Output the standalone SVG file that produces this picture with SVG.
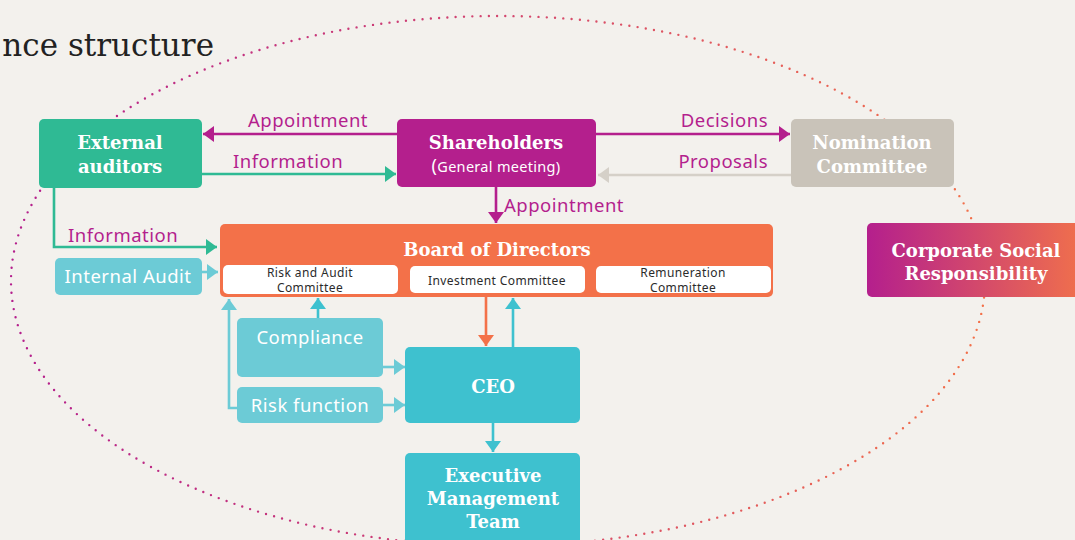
<svg xmlns="http://www.w3.org/2000/svg" width="1075" height="540" viewBox="0 0 1075 540">
<defs>
<linearGradient id="gEll" gradientUnits="userSpaceOnUse" x1="11" y1="0" x2="985" y2="0">
<stop offset="0" stop-color="#b41f8d"/><stop offset="0.5" stop-color="#d3466f"/><stop offset="1" stop-color="#f37149"/>
</linearGradient>
<linearGradient id="gCsr" x1="0" y1="0" x2="1" y2="0">
<stop offset="0" stop-color="#b41f8d"/><stop offset="1" stop-color="#f0704c"/>
</linearGradient>
<marker id="mMag" viewBox="0 0 11 16" refX="11" refY="8" markerWidth="11" markerHeight="16" markerUnits="userSpaceOnUse" orient="auto"><path d="M0,0L11,8L0,16z" fill="#b41f8d"/></marker>
<marker id="mGrn" viewBox="0 0 11 16" refX="11" refY="8" markerWidth="11" markerHeight="16" markerUnits="userSpaceOnUse" orient="auto"><path d="M0,0L11,8L0,16z" fill="#2fba94"/></marker>
<marker id="mGry" viewBox="0 0 11 16" refX="11" refY="8" markerWidth="11" markerHeight="16" markerUnits="userSpaceOnUse" orient="auto"><path d="M0,0L11,8L0,16z" fill="#d5d0c8"/></marker>
<marker id="mLt" viewBox="0 0 11 16" refX="11" refY="8" markerWidth="11" markerHeight="16" markerUnits="userSpaceOnUse" orient="auto"><path d="M0,0L11,8L0,16z" fill="#6ccbd6"/></marker>
<marker id="mTl" viewBox="0 0 11 16" refX="11" refY="8" markerWidth="11" markerHeight="16" markerUnits="userSpaceOnUse" orient="auto"><path d="M0,0L11,8L0,16z" fill="#3ec1cf"/></marker>
<marker id="mOr" viewBox="0 0 11 16" refX="11" refY="8" markerWidth="11" markerHeight="16" markerUnits="userSpaceOnUse" orient="auto"><path d="M0,0L11,8L0,16z" fill="#f37149"/></marker>
</defs>
<style>
.bt{font-family:"DejaVu Serif",serif;font-weight:bold;font-size:18px;fill:#fff;text-anchor:middle}
.st{font-family:"Noto Sans","Open Sans",sans-serif;font-size:18.5px;fill:#fff;text-anchor:middle;letter-spacing:0.5px}
.lb{font-family:"Noto Sans","Open Sans",sans-serif;font-size:18.5px;fill:#b41f8d;letter-spacing:0.5px}
.sm{font-family:"Noto Sans","Open Sans",sans-serif;font-size:12px;fill:#2b2b2b;text-anchor:middle;letter-spacing:0.4px}
.ln{fill:none;stroke-width:2.6}
</style>
<rect width="1075" height="540" fill="#f3f1ed"/>
<text x="214" y="56" font-family="DejaVu Serif, serif" font-size="31" fill="#222" text-anchor="end">nce structure</text>
<ellipse cx="498" cy="281" rx="487" ry="265" fill="none" stroke="url(#gEll)" stroke-width="2.4" stroke-linecap="round" stroke-dasharray="0 8.3"/>

<g id="connectors">
<path class="ln" d="M397,134H203" stroke="#b41f8d" marker-end="url(#mMag)"/>
<path class="ln" d="M202,174H396" stroke="#2fba94" marker-end="url(#mGrn)"/>
<path class="ln" d="M596,134H790" stroke="#b41f8d" marker-end="url(#mMag)"/>
<path class="ln" d="M791,175H598" stroke="#d5d0c8" marker-end="url(#mGry)"/>
<path class="ln" d="M496,187V223" stroke="#b41f8d" marker-end="url(#mMag)"/>
<path class="ln" d="M54,188V247H217" stroke="#2fba94" marker-end="url(#mGrn)"/>
<path class="ln" d="M202,272H218" stroke="#6ccbd6" marker-end="url(#mLt)"/>
<path class="ln" d="M318,318V298" stroke="#3ec1cf" marker-end="url(#mTl)"/>
<path class="ln" d="M237,408H229V299" stroke="#6ccbd6" marker-end="url(#mLt)"/>
<path class="ln" d="M383,367H405" stroke="#6ccbd6" marker-end="url(#mLt)"/>
<path class="ln" d="M383,405H405" stroke="#6ccbd6" marker-end="url(#mLt)"/>
<path class="ln" d="M486,297V346" stroke="#f37149" marker-end="url(#mOr)"/>
<path class="ln" d="M513,347V298" stroke="#3ec1cf" marker-end="url(#mTl)"/>
<path class="ln" d="M493,423V452" stroke="#3ec1cf" marker-end="url(#mTl)"/>
<text class="lb" x="308" y="127" text-anchor="middle">Appointment</text>
<text class="lb" x="288" y="168" text-anchor="middle">Information</text>
<text class="lb" x="768" y="127" text-anchor="end">Decisions</text>
<text class="lb" x="768" y="168" text-anchor="end">Proposals</text>
<text class="lb" x="504" y="212">Appointment</text>
<text class="lb" x="68" y="242">Information</text>
</g>

<g id="external-auditors">
<rect x="39" y="119" width="163" height="69" rx="5" fill="#2fba94"/>
<text class="bt" x="120" y="149">External</text>
<text class="bt" x="120" y="173">auditors</text>
</g>
<g id="shareholders">
<rect x="397" y="119" width="199" height="68" rx="5" fill="#b41f8d"/>
<text class="bt" x="496" y="149">Shareholders</text>
<text x="496" y="172" font-family="Noto Sans, Open Sans, sans-serif" font-size="14.5" fill="#fff" text-anchor="middle" letter-spacing="0.3"><tspan font-size="18">(</tspan>General meeting)</text>
</g>
<g id="nomination-committee">
<rect x="791" y="119" width="163" height="68" rx="5" fill="#c9c3b9"/>
<text class="bt" x="872" y="149">Nomination</text>
<text class="bt" x="872" y="173">Committee</text>
</g>
<g id="csr">
<rect x="867" y="223" width="215" height="74" rx="5" fill="url(#gCsr)"/>
<text class="bt" x="976" y="257">Corporate Social</text>
<text class="bt" x="976" y="280">Responsibility</text>
</g>
<g id="board">
<rect x="220" y="224" width="553" height="73" rx="5" fill="#f37149"/>
<text class="bt" x="497" y="256">Board of Directors</text>
<rect x="223" y="265" width="175" height="29" rx="5" fill="#fff"/>
<text class="sm" x="310" y="277">Risk and Audit</text>
<text class="sm" x="310" y="292">Committee</text>
<rect x="410" y="266" width="175" height="27" rx="5" fill="#fff"/>
<text class="sm" x="497" y="285">Investment Committee</text>
<rect x="596" y="266" width="175" height="27" rx="5" fill="#fff"/>
<text class="sm" x="683" y="277">Remuneration</text>
<text class="sm" x="683" y="292">Committee</text>
</g>
<g id="internal-audit">
<rect x="55" y="258" width="147" height="37" rx="5" fill="#6ccbd6"/>
<text class="st" x="128" y="283">Internal Audit</text>
</g>
<g id="compliance">
<rect x="237" y="318" width="146" height="59" rx="5" fill="#6ccbd6"/>
<text class="st" x="310" y="344">Compliance</text>
</g>
<g id="risk-function">
<rect x="237" y="387" width="146" height="36" rx="5" fill="#6ccbd6"/>
<text class="st" x="310" y="412">Risk function</text>
</g>
<g id="ceo">
<rect x="405" y="347" width="175" height="76" rx="5" fill="#3ec1cf"/>
<text class="bt" x="493" y="393">CEO</text>
</g>
<g id="executive-management-team">
<rect x="405" y="453" width="175" height="95" rx="5" fill="#3ec1cf"/>
<text class="bt" x="493" y="482">Executive</text>
<text class="bt" x="493" y="505">Management</text>
<text class="bt" x="493" y="528">Team</text>
</g>
</svg>
